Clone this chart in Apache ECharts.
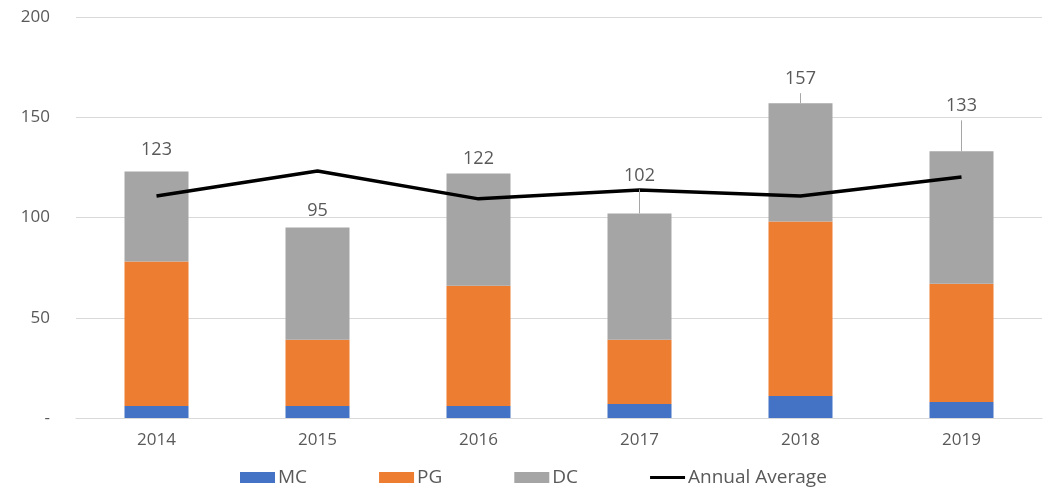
<!DOCTYPE html>
<html>
<head>
<meta charset="utf-8">
<script src="https://cdn.jsdelivr.net/npm/echarts@6/dist/echarts.min.js"></script>
<style>html,body{margin:0;padding:0;background:#fff}#c{width:1049px;height:492px}</style>
</head>
<body>
<div id="c"></div>
<script>
var categories = ['2014', '2015', '2016', '2017', '2018', '2019'];
var mcValues = [6, 6, 6, 7, 11, 8];
var pgValues = [72, 33, 60, 32, 87, 59];
var dcValues = [45, 56, 56, 63, 59, 66];
var totals = [123, 95, 122, 102, 157, 133];
var annualAverage = [110.7, 123.2, 109.3, 113.7, 110.7, 120.2];
var yTickLabels = { 0: '-', 50: '50', 100: '100', 150: '150', 200: '200' };

// label lift above the bar top, in pixels (layout only)
var labelLift = [22, 17, 15, 38, 24, 45];

var textColor = '#595959';
var chart = echarts.init(document.getElementById('c'));
chart.setOption({
  animation: false,
  grid: { left: 76, right: 7, top: 17, bottom: 74, containLabel: false },
  legend: {
    bottom: 0,
    left: 235,
    itemWidth: 35,
    itemHeight: 11,
    itemGap: 72,
    textStyle: { color: textColor, fontSize: 19, fontFamily: 'Open Sans', padding: [0, 0, 0, -2] },
    data: [
      { name: 'MC', icon: 'rect' },
      { name: 'PG', icon: 'rect' },
      { name: 'DC', icon: 'rect' },
      { name: 'Annual Average', icon: 'path://M0,0 H38 V3.2 H0 Z' }
    ]
  },
  xAxis: {
    type: 'category',
    data: categories,
    axisTick: { show: false },
    axisLine: { lineStyle: { color: '#D9D9D9', width: 1 } },
    axisLabel: { color: textColor, fontSize: 17, fontFamily: 'Open Sans', margin: 14 }
  },
  yAxis: {
    type: 'value',
    min: 0,
    max: 200,
    interval: 50,
    axisLine: { show: false },
    axisTick: { show: false },
    splitLine: { lineStyle: { color: '#D9D9D9', width: 1 } },
    axisLabel: {
      color: textColor, fontSize: 17, fontFamily: 'Open Sans', margin: 26,
      formatter: function (v) { return yTickLabels[v] !== undefined ? yTickLabels[v] : v; }
    }
  },
  series: [
    { name: 'MC', type: 'bar', stack: 'a', data: mcValues, barWidth: 64, itemStyle: { color: '#4472C4' } },
    { name: 'PG', type: 'bar', stack: 'a', data: pgValues, barWidth: 64, itemStyle: { color: '#ED7D31' } },
    { name: 'DC', type: 'bar', stack: 'a', data: dcValues, barWidth: 64, itemStyle: { color: '#A5A5A5' } },
    {
      name: 'Annual Average', type: 'line', data: annualAverage, symbol: 'none',
      lineStyle: { color: '#000000', width: 3.5 }, itemStyle: { color: '#000000' }, z: 5
    },
    {
      name: 'totals', type: 'custom', z: 6, silent: true,
      data: totals.map(function (v, i) { return [i, v]; }),
      encode: { x: 0, y: 1 },
      renderItem: function (params, api) {
        var i = params.dataIndex;
        var p = api.coord([api.value(0), api.value(1)]);
        var lift = labelLift[i];
        var ly = p[1] - lift;
        var children = [{
          type: 'text',
          style: {
            text: String(totals[i]), x: p[0], y: ly,
            align: 'center', verticalAlign: 'middle',
            fill: textColor, fontSize: 18, fontFamily: 'Open Sans'
          }
        }];
        if (lift > 23) {
          children.push({
            type: 'line',
            shape: { x1: p[0], y1: ly + 14, x2: p[0], y2: p[1] },
            style: { stroke: '#A6A6A6', lineWidth: 1 }
          });
        }
        return { type: 'group', children: children };
      }
    }
  ]
});
</script>
</body>
</html>
